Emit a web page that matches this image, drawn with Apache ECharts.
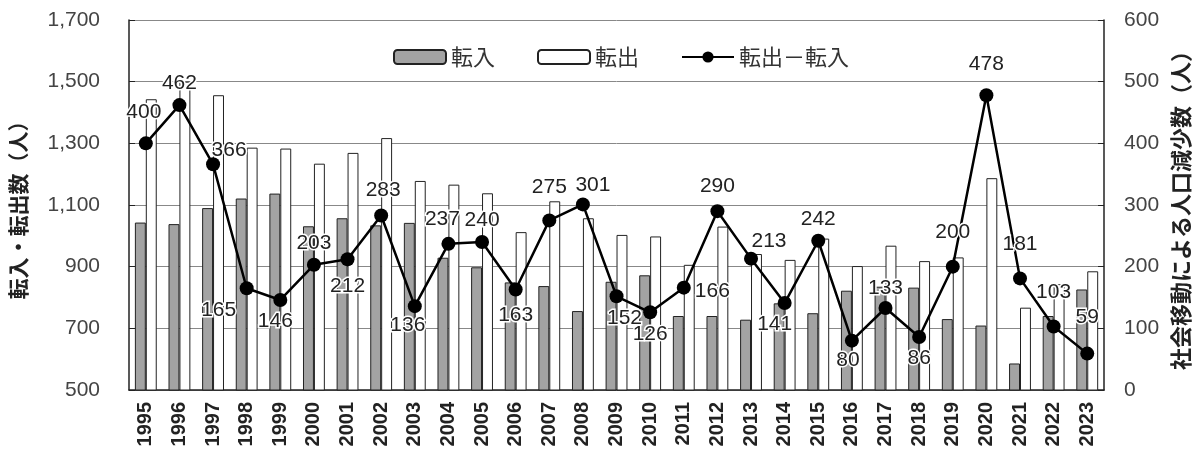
<!DOCTYPE html>
<html><head><meta charset="utf-8">
<script src="https://cdn.jsdelivr.net/npm/echarts@6/dist/echarts.min.js"></script>
<style>html,body{margin:0;padding:0;background:#fff}#c{width:1200px;height:455px}</style>
</head><body><div id="c"></div>
<script>
const years = ['1995','1996','1997','1998','1999','2000','2001','2002','2003','2004','2005','2006','2007','2008','2009','2010','2011','2012','2013','2014','2015','2016','2017','2018','2019','2020','2021','2022','2023'];
const tennyu = [1043,1038,1090,1121,1137,1031,1057,1034,1042,929,898,849,837,756,851,872,740,740,728,781,749,822,835,832,730,709,586,740,826];
const tenshutsu = [1443,1500,1456,1286,1283,1234,1269,1317,1178,1166,1138,1012,1112,1057,1003,998,906,1030,941,922,991,902,968,918,930,1187,767,843,885];
const diff = [400,462,366,165,146,203,212,283,136,237,240,163,275,301,152,126,166,290,213,141,242,80,133,86,200,478,181,103,59];
const leftTicks = [500,1700,200];
const rightTicks = [0,600,100];

// label placement (style only)
const labelPlace = [
 ['top',[-2,-10]],['top',[0,0]],['top',[16,7]],['bottom',[-28,0]],['bottom',[-5,0]],
 ['top',[0,0]],['bottom',[0,5]],['top',[2,-4]],['bottom',[-7,-2]],['top',[-6,-3]],
 ['top',[0,0]],['bottom',[0,4]],['top',[0,-12]],['top',[10,2]],['bottom',[8,0]],
 ['bottom',[0,0]],['right',[0,4]],['top',[0,-3]],['top',[18,4]],['bottom',[-10,0]],
 ['top',[0,0]],['bottom',[-4,-2]],['top',[0,2]],['bottom',[0,0]],['top',[0,-13]],
 ['top',[0,-10]],['top',[0,-13]],['top',[0,-13]],['top',[0,-15]]
];

const NUM = '"Liberation Sans", Arial, sans-serif';
const JP = '"Noto Sans CJK JP", sans-serif';
const chart = echarts.init(document.getElementById('c'), null, {renderer:'canvas'});
chart.setOption({
  animation:false,
  textStyle:{fontFamily:NUM},
  grid:{left:124,right:93,top:20,bottom:65},
  legend:{
    left:388, top:41, itemWidth:52, itemHeight:14, itemGap:42,
    textStyle:{fontSize:22,color:'#333',fontFamily:JP},
    data:[{name:'転入'},{name:'転出'},{name:'転出－転入'}]
  },
  xAxis:{
    type:'category', data:years,
    axisLine:{lineStyle:{color:'#222',width:1.5}},
    axisTick:{show:false},
    axisLabel:{rotate:90,fontSize:20,fontWeight:'bold',color:'#222',margin:12,fontFamily:NUM}
  },
  yAxis:[{
    type:'value', min:leftTicks[0], max:leftTicks[1], interval:leftTicks[2],
    name:'転入・転出数（人）', nameLocation:'middle', nameRotate:90, nameGap:100,
    nameTextStyle:{fontSize:21,fontWeight:'bold',color:'#222',fontFamily:JP},
    axisLine:{show:true,lineStyle:{color:'#222',width:1.5}},
    axisTick:{show:true,inside:true,length:6,lineStyle:{color:'#222'}},
    axisLabel:{fontSize:21,color:'#444',margin:29,fontFamily:NUM,formatter:v=>v.toLocaleString('en-US')},
    splitLine:{lineStyle:{color:'#888',width:1}}
  },{
    type:'value', min:rightTicks[0], max:rightTicks[1], interval:rightTicks[2],
    name:'社会移動による人口減少数（人）', nameLocation:'middle', nameRotate:90, nameGap:63,
    nameTextStyle:{fontSize:22,fontWeight:'bold',color:'#222',fontFamily:JP},
    axisLine:{show:true,lineStyle:{color:'#222',width:1.5}},
    axisTick:{show:true,inside:true,length:6,lineStyle:{color:'#222'}},
    axisLabel:{fontSize:21,color:'#444',margin:20,fontFamily:NUM},
    splitLine:{show:false}
  }],
  series:[{
    name:'転入', type:'bar', data:tennyu, barGap:'0%', barCategoryGap:'35%',
    itemStyle:{color:'#a3a3a3',borderColor:'#222',borderWidth:1}
  },{
    name:'転出', type:'bar', data:tenshutsu,
    itemStyle:{color:'#ffffff',borderColor:'#222',borderWidth:1}
  },{
    name:'転出－転入', type:'line', yAxisIndex:1, z:5,
    data: diff.map((v,i)=>({value:v,label:{position:labelPlace[i][0],offset:labelPlace[i][1]}})),
    symbol:'circle', symbolSize:14,
    lineStyle:{color:'#000',width:2.5},
    itemStyle:{color:'#000'},
    label:{show:true,fontSize:21,color:'#222',distance:4,fontFamily:NUM,textBorderColor:'#fff',textBorderWidth:3}
  }]
});
</script></body></html>
